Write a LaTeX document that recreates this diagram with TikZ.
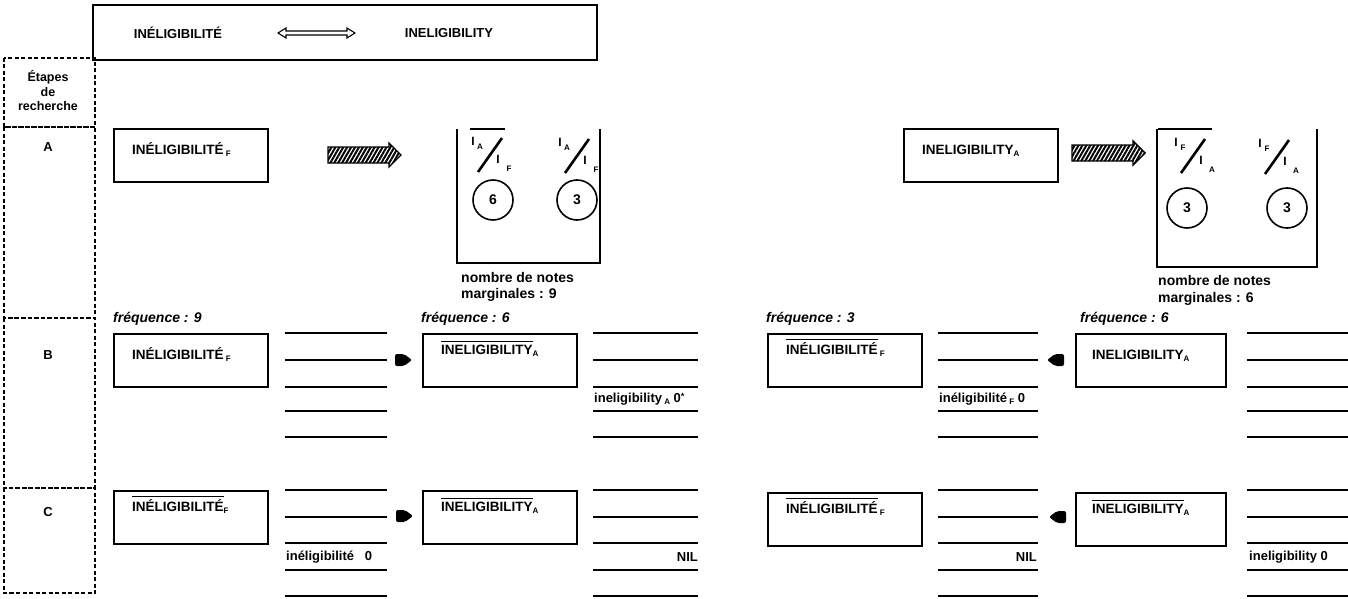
\documentclass[tikz,border=0pt]{standalone}
\usepackage{fontspec}
\setmainfont{Liberation Sans}
\usetikzlibrary{patterns.meta,calc}
\newcommand\fsz[1]{\fontsize{#1}{#1}\selectfont}
\newcommand\sbs[1]{\raisebox{-2pt}{\fsz{8}#1}}
\newcommand\ovl[1]{\leavevmode\vbox{\hrule height 1.2pt\kern 2.2pt\hbox{#1}}}
\newcommand\slashfrac[5]{%
  \node[fr] (#1t) at ($(#2,#3)+(-17,-14)$) {I};
  \node[frs] (#1ts) at ($(#2,#3)+(-10,-8)$) {#4};
  \draw[line width=2.6pt] ($(#2,#3)+(-12,17)$) -- ($(#2,#3)+(12,-17)$);
  \node[fr] (#1b) at ($(#2,#3)+(8,4)$) {I};
  \node[frs] (#1bs) at ($(#2,#3)+(19,14)$) {#5};
}
\newcommand\hatcharrow[2]{% start x, centre y
  \draw[hatchpath] (#1,#2-8) -- ++(61,0) -- ++(0,-4) -- ++(12,12) -- ++(-12,12) -- ++(0,-4) -- ++(-61,0) -- cycle;
}
\newcommand\blob[3]{% x, y, direction (1 right, -1 left)
  \fill[shift={(#1,#2)}, xscale=#3, rounded corners=2pt] (-9,-6) -- (0,-6) -- (8,0) -- (0,6) -- (-9,6) -- cycle;
}
\begin{document}
\begin{tikzpicture}[x=1pt,y=-1pt,
  every node/.style={font=\bfseries\fsz{13}},
  termbox/.style={draw, line width=2.2pt, anchor=north west, inner xsep=16pt, inner ysep=0pt,
    minimum width=154pt, minimum height=53pt, text width=118pt, align=left,
    text height=25pt, text depth=28pt, font=\bfseries\fsz{13.5}},
  obox/.style={termbox, text height=20pt, text depth=33pt},
  listline/.style={line width=2pt},
  dashbox/.style={line width=1.5pt, dash pattern=on 4pt off 2.5pt},
  hatchpath/.style={draw, line width=1.4pt,
    pattern={Lines[angle=60,distance=3.4pt,line width=2pt]}},
  freq/.style={font=\bfseries\itshape\fsz{14}, anchor=base west, inner sep=0pt},
  note/.style={font=\bfseries\fsz{14}, anchor=base west, inner sep=0pt},
  lbl/.style={font=\bfseries\fsz{13}, inner sep=0pt},
  circ/.style={circle, draw, line width=1.6pt, minimum size=40pt, inner sep=0pt, font=\bfseries\fsz{14}},
  fr/.style={font=\bfseries\fsz{12}, inner sep=0pt},
  frs/.style={font=\bfseries\fsz{8}, inner sep=0pt}
]
\useasboundingbox (0,0) rectangle (1348,599);

% top box
\node[draw, line width=1.8pt, minimum width=504pt, minimum height=55pt, inner sep=0pt] (top) at (345,32.5) {};
\node (tl) at (178,33) {INÉLIGIBILITÉ};
\node (tr) at (449,33) {INELIGIBILITY};
\coordinate (dblL) at (278,33);
\coordinate (dblR) at (355,33);
\draw[line width=1.1pt] (dblL) -- ++(8,-5) -- ++(0,3) -- ++(61,0) -- ++(0,-3) -- (dblR) -- ++(-8,5) -- ++(0,-3) -- ++(-61,0) -- ++(0,3) -- cycle;

% left column
\draw[dashbox] (4,58) rectangle (95,127);
\draw[dashbox] (4,127) rectangle (95,318);
\draw[dashbox] (4,318) rectangle (95,488);
\draw[dashbox] (4,488) rectangle (95,593);
\node[lbl, align=center, font=\bfseries\fontsize{12.5}{14.5}\selectfont] (etapes) at (48,91) {Étapes\\de\\recherche};
\node[lbl] (sA) at (48,147) {A};
\node[lbl] (sB) at (48,355) {B};
\node[lbl] (sC) at (48,512) {C};

% row A
\node[termbox] (aF) at (113,128) {INÉLIGIBILITÉ\,\sbs{F}};
\hatcharrow{328}{155}
\draw[line width=2.2pt] (457,129) |- (600,263) -- (600,129);
\draw[line width=1.6pt] (470,129) -- (505,129);
\slashfrac{f1}{490}{155}{A}{F}
\slashfrac{f2}{577}{156}{A}{F}
\node[circ] (c1) at (493,200) {6};
\node[circ] (c2) at (577,200) {3};
\node[note] (n1) at (461,282) {nombre de notes};
\node[note] (n2) at (461,298) {marginales : 9};

\node[termbox] (aA) at (903,128) {INELIGIBILITY\sbs{A}};
\hatcharrow{1072}{153}
\draw[line width=2.2pt] (1157,129) |- (1317,267) -- (1317,129);
\draw[line width=1.6pt] (1158,129) -- (1212,129);
\slashfrac{f3}{1193}{156}{F}{A}
\slashfrac{f4}{1277}{157}{F}{A}
\node[circ] (c3) at (1187,208) {3};
\node[circ] (c4) at (1287,208) {3};
\node[note] (n3) at (1158,285) {nombre de notes};
\node[note] (n4) at (1158,302) {marginales : 6};

% row B
\node[freq] (q1) at (113,322) {fréquence : 9};
\node[freq] (q2) at (421,322) {fréquence : 6};
\node[freq] (q3) at (766,322) {fréquence : 3};
\node[freq] (q4) at (1080,322) {fréquence : 6};
\node[termbox] (bF) at (113,333) {INÉLIGIBILITÉ\,\sbs{F}};
\node[obox] (bA) at (422,333) {\ovl{INELIGIBILITY}\sbs{A}};
\node[obox] (bF2) at (767,333) {\ovl{INÉLIGIBILITÉ}\,\sbs{F}};
\node[termbox, minimum width=150pt] (bA2) at (1075,333) {INELIGIBILITY\sbs{A}};
\foreach \y in {333,360,387,411,437} {
  \draw[listline] (285,\y) -- (387,\y);
  \draw[listline] (593,\y) -- (698,\y);
  \draw[listline] (938,\y) -- (1038,\y);
  \draw[listline] (1247,\y) -- (1348,\y);
}
\blob{404}{360}{1}
\blob{1055}{360}{-1}
\node[lbl, anchor=west] (tB2) at (594,399) {ineligibility\,\sbs{A} 0\raisebox{3pt}{\fsz{9}*}};
\node[lbl, anchor=west] (tB3) at (939,399) {inéligibilité\,\sbs{F} 0};

% row C
\node[obox] (cF) at (113,490) {\ovl{INÉLIGIBILITÉ}\sbs{F}};
\node[obox] (cA) at (422,490) {\ovl{INELIGIBILITY}\sbs{A}};
\node[obox] (cF2) at (767,492) {\ovl{INÉLIGIBILITÉ}\,\sbs{F}};
\node[obox, minimum width=150pt] (cA2) at (1075,492) {\ovl{INELIGIBILITY}\sbs{A}};
\foreach \y in {490,517,543,570,596} {
  \draw[listline] (285,\y) -- (387,\y);
  \draw[listline] (593,\y) -- (698,\y);
  \draw[listline] (938,\y) -- (1038,\y);
  \draw[listline] (1247,\y) -- (1348,\y);
}
\blob{405}{516}{1}
\blob{1057}{517}{-1}
\node[lbl, anchor=west] (tC1) at (286,557) {inéligibilité\;\; 0};
\node[lbl, anchor=east] (tC2) at (698,557) {NIL};
\node[lbl, anchor=east] (tC3) at (1037,557) {NIL};
\node[lbl, anchor=west] (tC4) at (1249,557) {ineligibility 0};
\end{tikzpicture}
\end{document}
